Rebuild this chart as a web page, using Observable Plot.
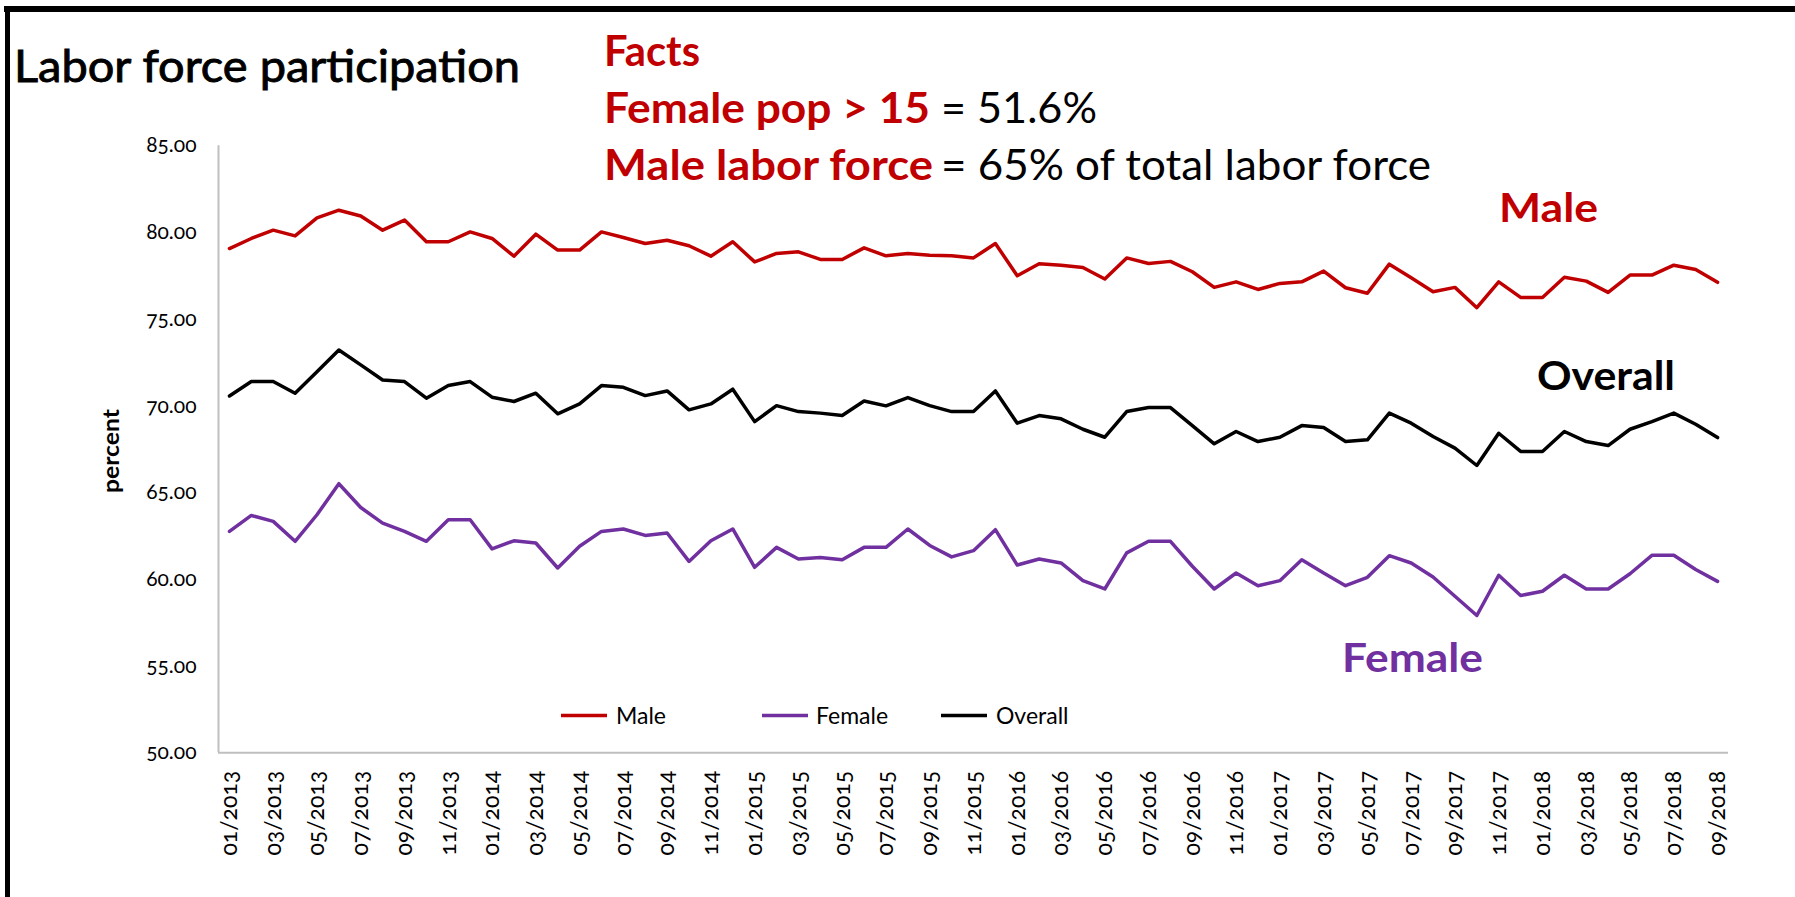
<!DOCTYPE html>
<html><head><meta charset="utf-8">
<script src="https://cdn.jsdelivr.net/npm/d3@7"></script>
<script src="https://cdn.jsdelivr.net/npm/@observablehq/plot@0.6"></script>
<style>
html,body{margin:0;padding:0;background:#fff;}
#wrap{position:relative;width:1795px;height:897px;overflow:hidden;background:#fff;}
#wrap svg{position:absolute;left:0;top:0;}
#wrap svg.plot text{font-variant-numeric:oldstyle-nums;}
</style></head><body><div id="wrap"></div>
<script>
const tickLabels = ["01/2013","03/2013","05/2013","07/2013","09/2013","11/2013",
  "01/2014","03/2014","05/2014","07/2014","09/2014","11/2014",
  "01/2015","03/2015","05/2015","07/2015","09/2015","11/2015",
  "01/2016","03/2016","05/2016","07/2016","09/2016","11/2016",
  "01/2017","03/2017","05/2017","07/2017","09/2017","11/2017",
  "01/2018","03/2018","05/2018","07/2018","09/2018"];

const male = [79.07,79.65,80.13,79.80,80.84,81.28,80.95,80.13,80.71,79.46,79.46,80.03,
  79.65,78.63,79.90,78.98,78.98,80.03,79.71,79.36,79.55,79.23,78.63,79.46,
  78.30,78.79,78.88,78.44,78.44,79.11,78.65,78.79,78.69,78.65,78.53,79.36,
  77.50,78.19,78.11,77.98,77.31,78.53,78.21,78.33,77.73,76.83,77.15,76.71,
  77.06,77.15,77.77,76.81,76.49,78.17,77.39,76.58,76.83,75.66,77.15,76.25,
  76.25,77.41,77.19,76.54,77.54,77.54,78.11,77.86,77.12];

const female = [62.76,63.68,63.34,62.19,63.72,65.51,64.14,63.24,62.76,62.19,63.43,63.43,
  61.75,62.22,62.09,60.65,61.90,62.76,62.90,62.53,62.67,61.03,62.22,62.90,
  60.69,61.84,61.17,61.26,61.13,61.84,61.84,62.90,61.95,61.29,61.65,62.86,
  60.82,61.17,60.94,59.92,59.44,61.52,62.19,62.19,60.75,59.44,60.36,59.63,
  59.92,61.13,60.36,59.63,60.11,61.36,60.94,60.13,59.02,57.91,60.23,59.06,
  59.31,60.23,59.44,59.44,60.32,61.38,61.38,60.56,59.88];

const overall = [70.57,71.40,71.40,70.73,71.97,73.22,72.36,71.49,71.40,70.44,71.17,71.40,
  70.50,70.25,70.73,69.54,70.11,71.17,71.07,70.59,70.86,69.77,70.11,70.96,
  69.09,70.01,69.67,69.58,69.44,70.28,70.00,70.48,70.01,69.67,69.67,70.86,
  69.00,69.44,69.25,68.65,68.19,69.67,69.90,69.90,68.86,67.81,68.52,67.94,
  68.19,68.86,68.75,67.94,68.04,69.58,69.00,68.23,67.56,66.56,68.42,67.37,
  67.37,68.52,67.94,67.71,68.65,69.09,69.58,68.94,68.17];

const seriesNames = ["Male", "Female", "Overall"];
const seriesColors = ["#C00000", "#7030A0", "#000000"];
const yTicks = [50, 55, 60, 65, 70, 75, 80, 85];
const yLabel = "percent";
const titleText = "Labor force participation";
const factsHead = "Facts";
const fact1 = ["Female pop > 15", "= 51.6%"];
const fact2 = ["Male labor force", "= 65% of total labor force"];

const rows = [];
[male, female, overall].forEach((arr, s) =>
  arr.forEach((v, i) => rows.push({i, series: seriesNames[s], value: v})));

const W = 1795, H = 897;
const chart = Plot.plot({
  width: W, height: H,
  marginLeft: 218, marginRight: 67, marginTop: 145.2, marginBottom: H - 752.2,
  style: {background: "transparent", fontFamily: "Lato, sans-serif", color: "#000"},
  x: {domain: [-0.5, male.length - 0.5]},
  y: {domain: [50, 85]},
  color: {domain: seriesNames, range: seriesColors},
  marks: [
    Plot.axisY({ticks: yTicks, tickSize: 0, tickPadding: 22, tickFormat: d3.format(".2f"), fontSize: 21, label: null}),
    Plot.axisX({ticks: tickLabels.map((_, k) => 2 * k), tickFormat: d => tickLabels[d / 2],
      tickRotate: -90, tickSize: 0, tickPadding: 18, fontSize: 23, label: null}),
    Plot.ruleY([50], {stroke: "#bfbfbf", strokeWidth: 2}),
    Plot.ruleX([-0.5], {stroke: "#bfbfbf", strokeWidth: 2}),
    Plot.line(rows, {x: "i", y: "value", stroke: "series", z: "series", strokeWidth: 3.5, strokeLinejoin: "round"})
  ]
});
chart.classList.add("plot");
const wrap = document.getElementById("wrap");
wrap.appendChild(chart);

// overlay: title, facts, annotations, legend, borders
const ov = d3.select(wrap).append("svg").attr("width", W).attr("height", H)
  .style("font-family", "Lato, 'Open Sans', sans-serif");

ov.append("rect").attr("x", 4).attr("y", 6).attr("width", W).attr("height", 6).attr("fill", "#000");
ov.append("rect").attr("x", 5).attr("y", 6).attr("width", 5).attr("height", H).attr("fill", "#000");

function txt(str, x, y, size, weight, fill, width) {
  const t = ov.append("text").attr("x", x).attr("y", y).text(str)
    .attr("font-size", size).attr("font-weight", weight).attr("fill", fill);
  if (width) t.attr("textLength", width).attr("lengthAdjust", "spacingAndGlyphs");
  return t;
}
const RED = seriesColors[0], PURPLE = seriesColors[1];

txt(titleText, 14, 82, 44, 400, "#000", 506).attr("stroke", "#000").attr("stroke-width", 0.9);
txt(factsHead, 604, 66, 42, 700, RED, 96);
txt(fact1[0], 604, 123, 42, 700, RED, 326);
txt(fact1[1], 941, 123, 42, 400, "#000", 156);
txt(fact2[0], 604, 180, 42, 700, RED, 329);
txt(fact2[1], 941, 180, 42, 400, "#000", 490);

txt(seriesNames[0], 1499, 222, 40, 700, RED, 99);
txt(seriesNames[2], 1537, 390, 40, 700, "#000", 138);
txt(seriesNames[1], 1342, 672, 40, 700, PURPLE, 141);

// legend
const legend = [
  {x1: 561, x2: 607, tx: 616},
  {x1: 762, x2: 808, tx: 816},
  {x1: 941, x2: 987, tx: 996}
];
legend.forEach((L, k) => {
  ov.append("line").attr("x1", L.x1).attr("x2", L.x2).attr("y1", 715.5).attr("y2", 715.5)
    .attr("stroke", seriesColors[k]).attr("stroke-width", 3.5);
  txt(seriesNames[k], L.tx, 723.5, 23, 400, "#000");
});

// y label
ov.append("text").attr("transform", "translate(119,451) rotate(-90)")
  .attr("text-anchor", "middle").attr("font-size", 22).attr("font-weight", 700)
  .attr("textLength", 84).attr("lengthAdjust", "spacingAndGlyphs")
  .attr("fill", "#000").text(yLabel);
</script></body></html>
